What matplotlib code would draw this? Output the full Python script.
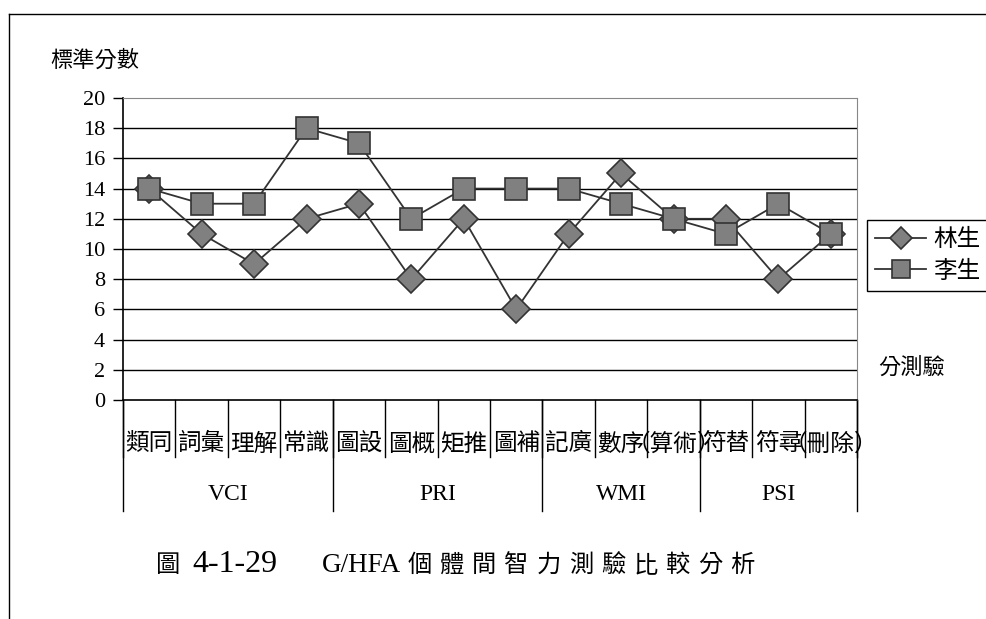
import matplotlib
matplotlib.use("Agg")
import matplotlib.pyplot as plt
from matplotlib.lines import Line2D
import numpy as np

plt.rcParams['font.family'] = ['Noto Sans CJK TC', 'DejaVu Sans']

subtests = ["類同", "詞彙", "理解", "常識", "圖設", "圖概", "矩推", "圖補",
            "記廣", "數序", "（算術）", "符替", "符尋", "（刪除）"]
groups = ["VCI", "PRI", "WMI", "PSI"]
group_sizes = [4, 4, 3, 3]
lin = [14, 11, 9, 12, 13, 8, 12, 6, 11, 15, 12, 12, 8, 11]
li = [14, 13, 13, 18, 17, 12, 14, 14, 14, 13, 12, 11, 13, 11]
series_names = ["林生", "李生"]
yticks = list(range(0, 21, 2))
y_title = "標準分數"
x_title = "分測驗"
cap_prefix = "圖"
cap_number = "4-1-29"
cap_code = "G/HFA"
cap_text = "個體間智力測驗比較分析"

W, H = 986, 619
fig = plt.figure(figsize=(W / 100, H / 100), dpi=100)

def fx(px):
    return px / W

def fy(py):
    return 1 - py / H

# outer frame (top and left edges)
fig.add_artist(Line2D([fx(9), 1], [fy(14), fy(14)], color="black", lw=1.0))
fig.add_artist(Line2D([fx(9), fx(9)], [fy(14), 0], color="black", lw=1.0))

left, right, top, bottom = 123, 857, 98, 400
ax = fig.add_axes([fx(left), fy(bottom), fx(right - left), (bottom - top) / H])

n = len(subtests)
x = np.arange(n)
ax.set_xlim(-0.5, n - 0.5)
ax.set_ylim(0, 20)
unit = (bottom - top) / 20.0  # pixels per data unit

for yv in yticks[1:-1]:
    ax.axhline(yv, color="black", lw=1.0, zorder=1)

mk = dict(markerfacecolor="#808080", markeredgecolor="#333333", markeredgewidth=1.2)
ax.plot(x, lin, color="#333333", lw=1.3, marker="D", markersize=14,
        label=series_names[0], zorder=3, **mk)
ax.plot(x, li, color="#333333", lw=1.3, marker="s", markersize=16,
        label=series_names[1], zorder=4, **mk)

for s in ["top", "right"]:
    ax.spines[s].set_color("#888888")
for s in ["left", "bottom"]:
    ax.spines[s].set_color("black")
    ax.spines[s].set_linewidth(1.2)

ax.set_yticks(yticks)
ax.set_yticklabels([str(v) for v in yticks], fontfamily="Liberation Serif", fontsize=16)
ax.tick_params(axis="y", length=7, width=1, direction="out", pad=6)
ax.set_xticks([])

def dy(py):
    # pixel row below the plot to data y
    return -(py - bottom) / unit

# category boundary lines and labels below the axis
bx = lambda i: i - 0.5
for i in range(n + 1):
    ax.add_artist(Line2D([bx(i), bx(i)], [0, dy(457)], color="black", lw=1.0, clip_on=False))
for i, lab in enumerate(subtests):
    ax.text(i, dy(444), lab, ha="center", va="center", fontsize=17, clip_on=False)

# group boundary lines and labels
edges = np.concatenate([[0], np.cumsum(group_sizes)])
for e in edges:
    ax.add_artist(Line2D([bx(e), bx(e)], [0, dy(511)], color="black", lw=1.0, clip_on=False))
for g, a, b in zip(groups, edges[:-1], edges[1:]):
    ax.text((bx(a) + bx(b)) / 2, dy(495), g, ha="center", va="center",
            fontfamily="Liberation Serif", fontsize=17, clip_on=False)

fig.text(fx(50), fy(60), y_title, ha="left", va="center", fontsize=16)
fig.text(fx(878), fy(367), x_title, ha="left", va="center", fontsize=16)

leg = ax.legend(loc="upper left", bbox_to_anchor=(fx(867), fy(220)),
                bbox_transform=fig.transFigure, borderaxespad=0, fontsize=17,
                handlelength=2.15, frameon=True, fancybox=False, framealpha=1,
                edgecolor="black", borderpad=0.35, labelspacing=0.35,
                handletextpad=0.3, markerscale=0.8)
leg.get_frame().set_linewidth(1.0)

# figure caption
cy = fy(565)
fig.text(fx(168), cy, cap_prefix, ha="center", va="center", fontsize=17.5)
fig.text(fx(192), cy, cap_number, ha="left", va="center",
         fontfamily="Liberation Serif", fontsize=23)
fig.text(fx(322), cy, cap_code, ha="left", va="center",
         fontfamily="Liberation Serif", fontsize=19.5)
for k, ch in enumerate(cap_text):
    fig.text(fx(420 + k * 32.2), cy, ch, ha="center", va="center", fontsize=17.5)

fig.savefig("out.png", dpi=100)
